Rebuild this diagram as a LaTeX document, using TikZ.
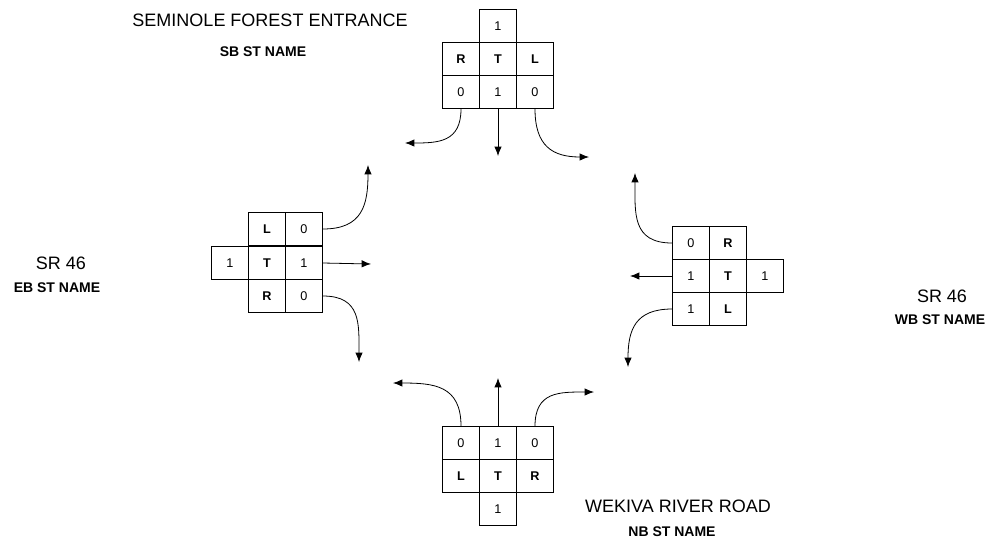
\documentclass[tikz,border=0pt]{standalone}
\usepackage{fontspec}
\setmainfont{Liberation Sans}
\usepackage{tikz}
\usetikzlibrary{arrows.meta}
\tikzstyle{nodoCelda} = [rectangle, draw=black, line width=0.6pt, minimum width=27.75pt, minimum height=24.75pt, inner sep=0pt, text centered, font=\fontsize{9.5}{11}\selectfont]
\tikzstyle{nodoCalle} = [inner sep=0pt, font=\fontsize{13.5}{16}\selectfont]
\tikzstyle{nodoSentido} = [inner sep=0pt, font=\fontsize{10.5}{12}\selectfont\bfseries]
\tikzstyle{flecha} = [-{Latex[length=7pt, width=5.5pt]}, line width=0.6pt]

\begin{document}
\begin{tikzpicture}[x=0.75pt, y=-0.75pt]
    \useasboundingbox (0,0) rectangle (995,544);

    \node (SBtitulo) [nodoCalle] at (270,20) {SEMINOLE FOREST ENTRANCE};
    \node (SBst) [nodoSentido] at (263,52) {SB ST NAME};
    \node (SBtop) [nodoCelda] at (498,26) {1};
    \node (SBR) [nodoCelda] at (461,59) {\textbf{R}};
    \node (SBT) [nodoCelda] at (498,59) {\textbf{T}};
    \node (SBL) [nodoCelda] at (535,59) {\textbf{L}};
    \node (SBvR) [nodoCelda] at (461,92) {0};
    \node (SBvT) [nodoCelda] at (498,92) {1};
    \node (SBvL) [nodoCelda] at (535,92) {0};
    \coordinate (SBoutR) at (405,143);
    \coordinate (SBoutT) at (498,156);
    \coordinate (SBoutL) at (589,157);
    \draw [flecha] (SBvR.south) to[out=-90, in=0, looseness=1.3] (SBoutR);
    \draw [flecha] (SBvT.south) -- (SBoutT);
    \draw [flecha] (SBvL.south) to[out=-90, in=180, looseness=1.3] (SBoutL);

    \node (EBtitulo) [nodoCalle] at (61,263) {SR 46};
    \node (EBst) [nodoSentido] at (57,288) {EB ST NAME};
    \node (EBL) [nodoCelda] at (267,229) {\textbf{L}};
    \node (EBvL) [nodoCelda] at (304,229) {0};
    \node (EBleft) [nodoCelda] at (230,263) {1};
    \node (EBT) [nodoCelda] at (267,263) {\textbf{T}};
    \node (EBvT) [nodoCelda] at (304,263) {1};
    \node (EBR) [nodoCelda] at (267,296) {\textbf{R}};
    \node (EBvR) [nodoCelda] at (304,296) {0};
    \coordinate (EBoutL) at (368,165);
    \coordinate (EBoutT) at (371,264);
    \coordinate (EBoutR) at (359,362);
    \draw [flecha] (EBvL.east) to[out=0, in=-90, looseness=1.3] (EBoutL);
    \draw [flecha] (EBvT.east) -- (EBoutT);
    \draw [flecha] (EBvR.east) to[out=0, in=90, looseness=1.3] (EBoutR);

    \node (WBtitulo) [nodoCalle] at (942,296) {SR 46};
    \node (WBst) [nodoSentido] at (940,320) {WB ST NAME};
    \node (WBvR) [nodoCelda] at (691,243) {0};
    \node (WBR) [nodoCelda] at (728,243) {\textbf{R}};
    \node (WBvT) [nodoCelda] at (691,276) {1};
    \node (WBT) [nodoCelda] at (728,276) {\textbf{T}};
    \node (WBright) [nodoCelda] at (765,276) {1};
    \node (WBvL) [nodoCelda] at (691,309) {1};
    \node (WBL) [nodoCelda] at (728,309) {\textbf{L}};
    \coordinate (WBoutR) at (635,173);
    \coordinate (WBoutT) at (630,276);
    \coordinate (WBoutL) at (628,367);
    \draw [flecha] (WBvR.west) to[out=180, in=-90, looseness=1.3] (WBoutR);
    \draw [flecha] (WBvT.west) -- (WBoutT);
    \draw [flecha] (WBvL.west) to[out=180, in=90, looseness=1.3] (WBoutL);

    \node (NBtitulo) [nodoCalle] at (678,506) {WEKIVA RIVER ROAD};
    \node (NBst) [nodoSentido] at (672,532) {NB ST NAME};
    \node (NBvL) [nodoCelda] at (461,443) {0};
    \node (NBvT) [nodoCelda] at (498,443) {1};
    \node (NBvR) [nodoCelda] at (535,443) {0};
    \node (NBL) [nodoCelda] at (461,476) {\textbf{L}};
    \node (NBT) [nodoCelda] at (498,476) {\textbf{T}};
    \node (NBR) [nodoCelda] at (535,476) {\textbf{R}};
    \node (NBbottom) [nodoCelda] at (498,509) {1};
    \coordinate (NBoutL) at (393,383);
    \coordinate (NBoutT) at (498,378);
    \coordinate (NBoutR) at (594,392);
    \draw [flecha] (NBvL.north) to[out=90, in=0, looseness=1.3] (NBoutL);
    \draw [flecha] (NBvT.north) -- (NBoutT);
    \draw [flecha] (NBvR.north) to[out=90, in=180, looseness=1.3] (NBoutR);
\end{tikzpicture}
\end{document}
